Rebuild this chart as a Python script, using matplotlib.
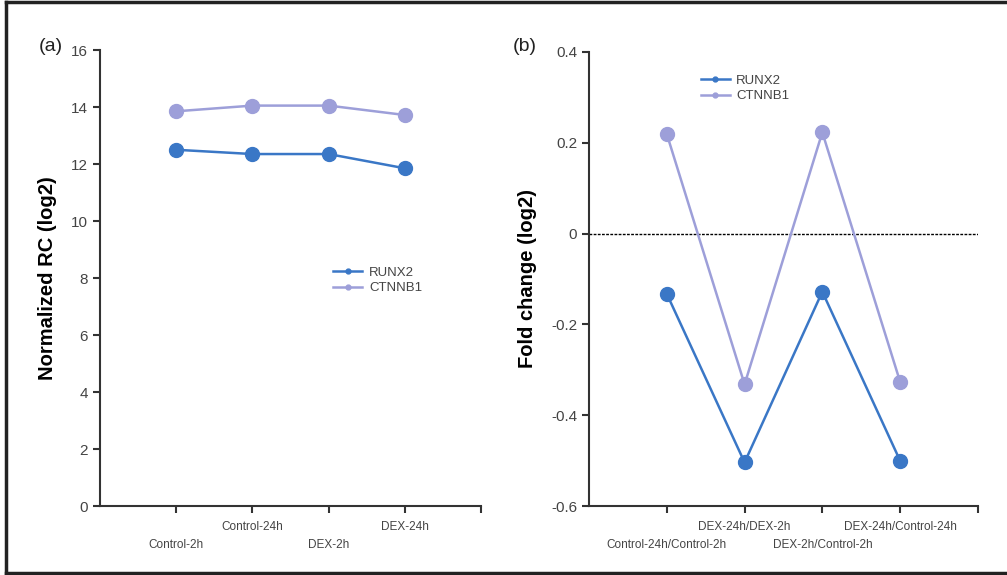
import matplotlib
matplotlib.use("Agg")
import matplotlib.pyplot as plt
from matplotlib.lines import Line2D

plt.rcParams['font.family'] = ['Liberation Sans', 'DejaVu Sans']

# panel (a) data
groups_a = ['Control-2h', 'Control-24h', 'DEX-2h', 'DEX-24h']
runx2_a = [12.5, 12.35, 12.35, 11.85]
ctnnb1_a = [13.85, 14.05, 14.05, 13.72]

# panel (b) data
groups_b = ['Control-24h/Control-2h', 'DEX-24h/DEX-2h', 'DEX-2h/Control-2h', 'DEX-24h/Control-24h']
runx2_b = [-0.133, -0.504, -0.128, -0.5]
ctnnb1_b = [0.219, -0.332, 0.223, -0.326]

C_RUNX2 = '#3a77c6'
C_CTNNB1 = '#9d9fd9'
AXC = '#333333'


def style_axes(ax, labels):
    for s in ['top', 'right']:
        ax.spines[s].set_visible(False)
    for s in ['left', 'bottom']:
        ax.spines[s].set_color(AXC)
        ax.spines[s].set_linewidth(1.5)
    ax.tick_params(axis='both', colors=AXC, width=1.5, length=5, direction='out')
    ax.tick_params(axis='y', labelsize=11, labelcolor='#444444')
    ax.tick_params(axis='x', labelsize=8.5, labelcolor='#444444')
    ax.set_xlim(0, 5)
    ax.set_xticks([1, 2, 3, 4, 5])
    ax.set_xticklabels(labels + [''])
    for i, t in enumerate(ax.xaxis.get_major_ticks()):
        t.set_pad(19 if i % 2 == 0 else 6)


def draw(ax, labels, r, c):
    x = range(1, len(labels) + 1)
    ax.plot(x, c, '-o', color=C_CTNNB1, lw=1.8, ms=10, zorder=3)
    ax.plot(x, r, '-o', color=C_RUNX2, lw=1.8, ms=10, zorder=3)


def legend(ax, loc):
    h = [Line2D([], [], color=C_RUNX2, lw=1.8, marker='o', ms=3.5),
         Line2D([], [], color=C_CTNNB1, lw=1.8, marker='o', ms=3.5)]
    ax.legend(h, ['RUNX2', 'CTNNB1'], loc='upper left', bbox_to_anchor=loc, frameon=False,
              fontsize=9.5, handlelength=2.2, handletextpad=0.5, labelspacing=0.25,
              borderpad=0, labelcolor='#444444')


fig = plt.figure(figsize=(10.07, 5.75), dpi=100)

ax1 = fig.add_axes([0.0993, 0.12, 0.3784, 0.793])
draw(ax1, groups_a, runx2_a, ctnnb1_a)
style_axes(ax1, groups_a)
ax1.set_ylim(0, 16)
ax1.set_yticks(range(0, 17, 2))
ax1.set_ylabel('Normalized RC (log2)', fontsize=14.5, fontweight='bold', labelpad=10)
legend(ax1, (0.595, 0.54))

ax2 = fig.add_axes([0.585, 0.12, 0.386, 0.7896])
ax2.axhline(0, color='black', lw=1, ls=(0, (2, 1)), zorder=1)
draw(ax2, groups_b, runx2_b, ctnnb1_b)
style_axes(ax2, groups_b)
ax2.set_ylim(-0.6, 0.4)
ax2.set_yticks([-0.6, -0.4, -0.2, 0, 0.2, 0.4])
ax2.set_yticklabels(['-0.6', '-0.4', '-0.2', '0', '0.2', '0.4'])
ax2.set_ylabel('Fold change (log2)', fontsize=14.5, fontweight='bold', labelpad=10)
legend(ax2, (0.27, 0.965))

fig.text(0.038, 0.912, '(a)', fontsize=14, color='#222222')
fig.text(0.509, 0.912, '(b)', fontsize=14, color='#222222')

# outer frame (left, top, bottom)
for xs, ys in [([0.006, 0.006], [0.004, 0.996]),
               ([0.006, 1.0], [0.996, 0.996]),
               ([0.006, 1.0], [0.004, 0.004])]:
    fig.add_artist(Line2D(xs, ys, color='#222222', lw=2.5, transform=fig.transFigure))

fig.savefig('out.png', dpi=100)
